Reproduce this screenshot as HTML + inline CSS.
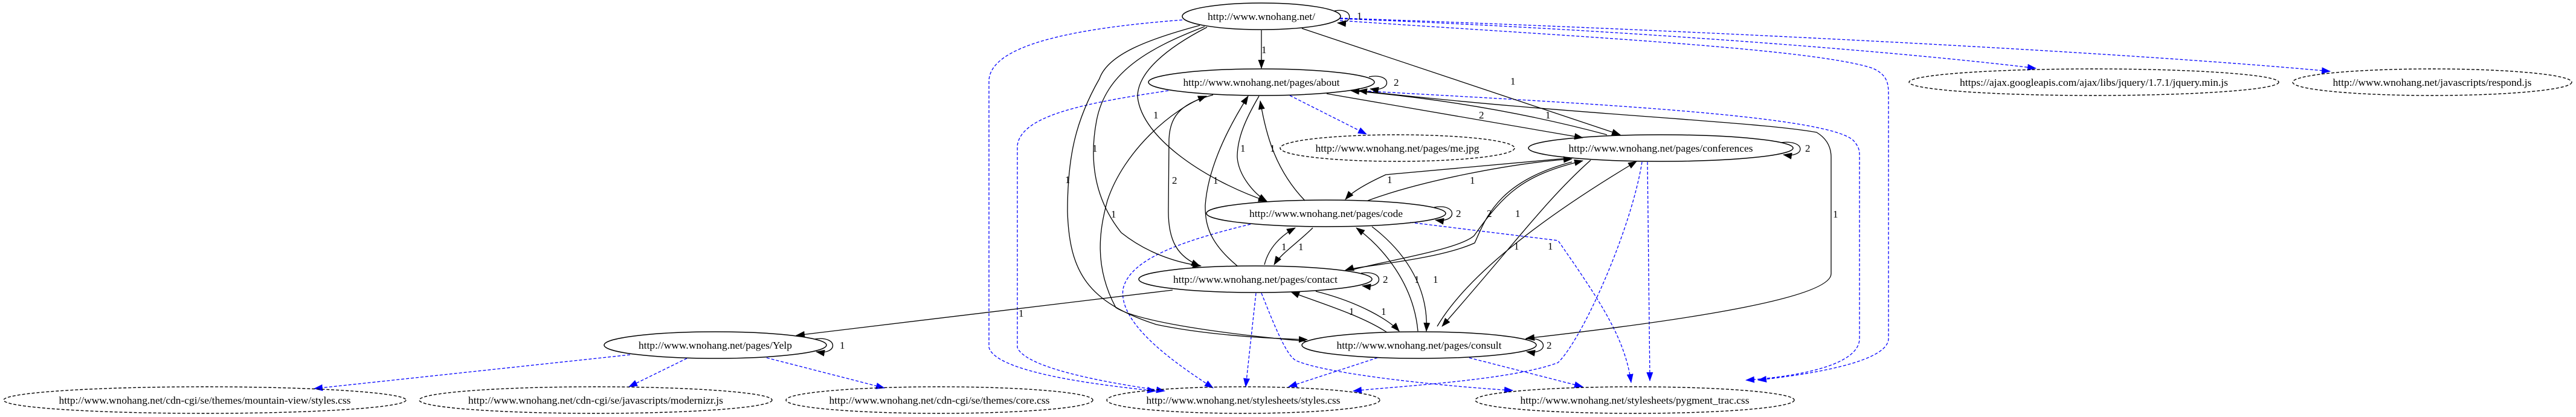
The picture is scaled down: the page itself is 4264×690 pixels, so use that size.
<!DOCTYPE html>
<html><head><meta charset="utf-8">
<style>
html,body{margin:0;padding:0;background:#fff;}
svg{display:block;}
text{font-family:"Liberation Serif",serif;font-size:17px;fill:#000;}
.n{fill:none;stroke:#000;stroke-width:1.5;}
.nd{fill:none;stroke:#000;stroke-width:1.4;stroke-dasharray:5,3;}
.e{fill:none;stroke:#000;stroke-width:1.3;}
.b{fill:none;stroke:#0000ff;stroke-width:1.3;stroke-dasharray:5,3;}
</style></head>
<body>
<svg width="4264" height="690" viewBox="0 0 4264 690" xmlns="http://www.w3.org/2000/svg">
<defs>
<marker id="ak" markerUnits="userSpaceOnUse" markerWidth="15" markerHeight="11" refX="14" refY="5.5" orient="auto"><path d="M0,0 L15,5.5 L0,11 z" fill="#000"/></marker>
<marker id="ab" markerUnits="userSpaceOnUse" markerWidth="15" markerHeight="11" refX="14" refY="5.5" orient="auto"><path d="M0,0 L15,5.5 L0,11 z" fill="#0000ff"/></marker>
<marker id="aks" markerUnits="userSpaceOnUse" markerWidth="15" markerHeight="11" refX="1" refY="5.5" orient="auto"><path d="M15,0 L0,5.5 L15,11 z" fill="#000"/></marker>
</defs>

<!-- blue dashed edges -->
<path class="b" marker-end="url(#ab)" d="M2218,31 C2600,45 3100,80 3370,113"/>
<path class="b" marker-end="url(#ab)" d="M2218,30 C2800,50 3500,85 3857,118"/>
<path class="b" marker-end="url(#ab)" d="M2218,34 C2600,60 3000,80 3100,113 C3126,125 3126,140 3126,160 L3126,560 C3126,600 2990,620 2910,629"/>
<path class="b" marker-end="url(#ab)" d="M2249,150 C2600,170 3040,190 3070,235 C3078,245 3078,250 3078,260 L3078,560 C3078,610 2950,625 2890,629"/>
<path class="b" marker-end="url(#ab)" d="M2135,158 L2262,222"/>
<path class="b" marker-end="url(#ab)" d="M1957,33 C1800,45 1640,70 1637,133 L1637,575 C1650,620 1850,640 1913,647"/>
<path class="b" marker-end="url(#ab)" d="M1934,150 C1800,170 1690,190 1684,241 L1684,575 C1700,615 1880,640 1928,647"/>
<path class="b" marker-end="url(#ab)" d="M2070,371 C1950,400 1870,430 1859,478 C1850,540 1960,610 2008,642"/>
<path class="b" marker-end="url(#ab)" d="M2079,485 L2062,640"/>
<path class="b" marker-end="url(#ab)" d="M2280,592 L2133,640"/>
<path class="b" marker-end="url(#ab)" d="M2718,268 C2700,380 2620,560 2579,600 C2500,630 2300,640 2240,647"/>
<path class="b" marker-end="url(#ab)" d="M2727,268 L2731,630"/>
<path class="b" marker-end="url(#ab)" d="M2334,368 L2579,398 C2650,500 2690,560 2700,633"/>
<path class="b" marker-end="url(#ab)" d="M2088,485 C2110,540 2130,590 2146,597 C2200,620 2400,640 2504,646"/>
<path class="b" marker-end="url(#ab)" d="M2432,592 L2620,640"/>
<path class="b" marker-end="url(#ab)" d="M1043,587 L520,643"/>
<path class="b" marker-end="url(#ab)" d="M1137,593 L1041,640"/>
<path class="b" marker-end="url(#ab)" d="M1269,592 L1464,642"/>

<!-- black edges -->
<path class="e" marker-end="url(#ak)" d="M2088,50 L2088,113"/>
<path class="e" marker-end="url(#ak)" d="M2155,47 L2682,223"/>
<path class="e" marker-end="url(#ak)" d="M2196,155 L2620,228"/>
<path class="e" marker-end="url(#ak)" d="M2660,223 C2500,180 2350,160 2236,150"/>
<path class="e" marker-end="url(#ak)" marker-start="url(#aks)" d="M2249,150 C2600,190 2900,200 3007,219 C3025,230 3031,245 3031,260 L3031,453 C3031,500 2700,540 2526,560"/>
<path class="e" marker-end="url(#ak)" d="M2593,262 L2294,289 C2270,300 2240,315 2227,330"/>
<path class="e" marker-end="url(#ak)" d="M2264,332 C2350,300 2500,270 2602,263"/>
<path class="e" marker-end="url(#ak)" d="M2602,268 C2480,300 2460,360 2441,402 C2380,430 2250,440 2227,447"/>
<path class="e" marker-end="url(#ak)" d="M2236,447 C2300,430 2414,413 2440,390 C2490,320 2520,290 2620,266"/>
<path class="e" marker-end="url(#ak)" d="M2379,540 C2420,470 2520,380 2709,267"/>
<path class="e" marker-end="url(#ak)" d="M2633,265 C2560,330 2510,400 2387,540"/>
<path class="e" marker-end="url(#ak)" d="M2093,438 C2100,410 2120,390 2144,377"/>
<path class="e" marker-end="url(#ak)" d="M2173,377 C2150,400 2120,420 2109,438"/>
<path class="e" marker-end="url(#ak)" d="M2347,548 C2340,470 2290,410 2245,377"/>
<path class="e" marker-end="url(#ak)" d="M2271,375 C2330,420 2365,480 2361,548"/>
<path class="e" marker-end="url(#ak)" d="M2296,550 C2250,520 2180,500 2137,483"/>
<path class="e" marker-end="url(#ak)" d="M2178,482 C2250,500 2300,530 2316,548"/>
<path class="e" marker-end="url(#ak)" d="M1941,480 L1318,555"/>
<path class="e" marker-end="url(#ak)" d="M1986,42 C1900,65 1834,90 1820,130 C1780,200 1767,260 1767,350 C1770,450 1800,500 1914,537 C2000,555 2100,560 2164,562"/>
<path class="e" marker-end="url(#ak)" d="M1994,44 C1900,80 1830,120 1815,200 C1800,280 1820,340 1856,385 C1900,420 1950,435 1988,440"/>
<path class="e" marker-end="url(#ak)" d="M1998,45 C1930,80 1883,120 1883,160 C1890,230 2000,300 2097,333"/>
<path class="e" marker-end="url(#ak)" d="M2164,565 C2000,550 1880,530 1847,509 C1810,440 1820,380 1833,332 C1860,250 1940,180 1997,159"/>
<path class="e" marker-end="url(#ak)" d="M2008,157 C1960,170 1937,187 1935,230 L1934,350 C1934,400 1950,425 1986,440"/>
<path class="e" marker-end="url(#ak)" d="M2048,440 C2000,400 1995,370 1995,340 C2000,270 2040,200 2066,159"/>
<path class="e" marker-end="url(#ak)" d="M2084,159 C2060,200 2048,230 2048,260 C2050,290 2075,320 2097,333"/>
<path class="e" marker-end="url(#ak)" d="M2160,332 C2110,280 2095,220 2086,167"/>

<!-- self loops -->
<path class="e" marker-end="url(#ak)" d="M2209,18 C2240,12 2242,40 2214,38"/>
<path class="e" marker-end="url(#ak)" d="M2266,127 C2305,120 2305,153 2268,147"/>
<path class="e" marker-end="url(#ak)" d="M2947,236 C2990,230 2990,262 2952,256"/>
<path class="e" marker-end="url(#ak)" d="M2374,343 C2413,336 2413,370 2376,364"/>
<path class="e" marker-end="url(#ak)" d="M2253,452 C2292,446 2292,478 2255,473"/>
<path class="e" marker-end="url(#ak)" d="M2525,561 C2564,555 2564,588 2527,582"/>
<path class="e" marker-end="url(#ak)" d="M1349,561 C1388,555 1388,588 1351,582"/>

<!-- nodes -->
<ellipse class="n" cx="2088" cy="27" rx="131" ry="22"/>
<ellipse class="n" cx="2088" cy="136" rx="187" ry="22"/>
<ellipse class="nd" cx="2313" cy="245" rx="194" ry="22"/>
<ellipse class="n" cx="2749" cy="245" rx="219" ry="22"/>
<ellipse class="n" cx="2195" cy="353" rx="198" ry="22"/>
<ellipse class="n" cx="2078" cy="462" rx="193" ry="22"/>
<ellipse class="n" cx="2349" cy="571" rx="194" ry="22"/>
<ellipse class="n" cx="1184" cy="571" rx="184" ry="22"/>
<ellipse class="nd" cx="2058" cy="662" rx="226" ry="22"/>
<ellipse class="nd" cx="2706" cy="662" rx="264" ry="22"/>
<ellipse class="nd" cx="339" cy="662" rx="333" ry="22"/>
<ellipse class="nd" cx="986" cy="662" rx="292" ry="22"/>
<ellipse class="nd" cx="1555" cy="662" rx="254" ry="22"/>
<ellipse class="nd" cx="3466" cy="136" rx="306" ry="22"/>
<ellipse class="nd" cx="4026" cy="136" rx="231" ry="22"/>

<g text-anchor="middle" lengthAdjust="spacingAndGlyphs">
<text x="2088" y="33" textLength="178" lengthAdjust="spacingAndGlyphs">http://www.wnohang.net/</text>
<text x="2088" y="142" textLength="259" lengthAdjust="spacingAndGlyphs">http://www.wnohang.net/pages/about</text>
<text x="2313" y="251" textLength="271" lengthAdjust="spacingAndGlyphs">http://www.wnohang.net/pages/me.jpg</text>
<text x="2749" y="251" textLength="305" lengthAdjust="spacingAndGlyphs">http://www.wnohang.net/pages/conferences</text>
<text x="2195" y="359" textLength="254" lengthAdjust="spacingAndGlyphs">http://www.wnohang.net/pages/code</text>
<text x="2078" y="468" textLength="272" lengthAdjust="spacingAndGlyphs">http://www.wnohang.net/pages/contact</text>
<text x="2349" y="577" textLength="273" lengthAdjust="spacingAndGlyphs">http://www.wnohang.net/pages/consult</text>
<text x="1184" y="577" textLength="254" lengthAdjust="spacingAndGlyphs">http://www.wnohang.net/pages/Yelp</text>
<text x="2058" y="668" textLength="321" lengthAdjust="spacingAndGlyphs">http://www.wnohang.net/stylesheets/styles.css</text>
<text x="2706" y="668" textLength="379" lengthAdjust="spacingAndGlyphs">http://www.wnohang.net/stylesheets/pygment_trac.css</text>
<text x="339" y="668" textLength="483" lengthAdjust="spacingAndGlyphs">http://www.wnohang.net/cdn-cgi/se/themes/mountain-view/styles.css</text>
<text x="986" y="668" textLength="422" lengthAdjust="spacingAndGlyphs">http://www.wnohang.net/cdn-cgi/se/javascripts/modernizr.js</text>
<text x="1555" y="668" textLength="365" lengthAdjust="spacingAndGlyphs">http://www.wnohang.net/cdn-cgi/se/themes/core.css</text>
<text x="3466" y="142" textLength="444" lengthAdjust="spacingAndGlyphs">https://ajax.googleapis.com/ajax/libs/jquery/1.7.1/jquery.min.js</text>
<text x="4026" y="142" textLength="329" lengthAdjust="spacingAndGlyphs">http://www.wnohang.net/javascripts/respond.js</text>
</g>

<!-- edge labels -->
<g>
<text x="2246" y="32">1</text>
<text x="2307" y="142">2</text>
<text x="2988" y="251">2</text>
<text x="2410" y="359">2</text>
<text x="2289" y="468">2</text>
<text x="2560" y="577">2</text>
<text x="1390" y="577">1</text>
<text x="2088" y="88">1</text>
<text x="2500" y="140">1</text>
<text x="2448" y="196">2</text>
<text x="2558" y="196">1</text>
<text x="3034" y="360">1</text>
<text x="1909" y="196">1</text>
<text x="1808" y="251">1</text>
<text x="2053" y="251">1</text>
<text x="2102" y="251">1</text>
<text x="1763" y="303">1</text>
<text x="1940" y="304">2</text>
<text x="2008" y="304">1</text>
<text x="2296" y="303">1</text>
<text x="2433" y="304">1</text>
<text x="1839" y="360">1</text>
<text x="2461" y="359">2</text>
<text x="2508" y="359">1</text>
<text x="2121" y="414">1</text>
<text x="2149" y="414">1</text>
<text x="2506" y="413">1</text>
<text x="2562" y="413">1</text>
<text x="2341" y="468">1</text>
<text x="2372" y="468">1</text>
<text x="2233" y="521">1</text>
<text x="2286" y="521">1</text>
<text x="1686" y="524">1</text>
</g>
</svg>
</body></html>
